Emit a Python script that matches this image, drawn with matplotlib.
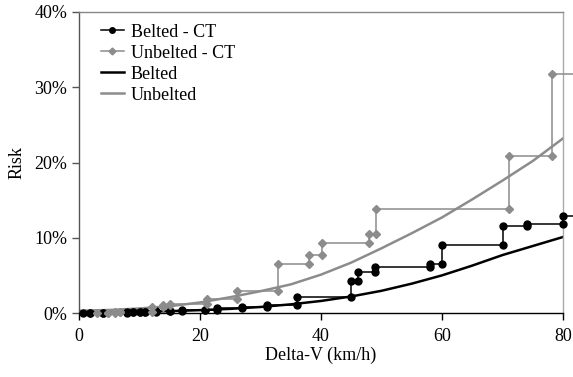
import numpy as np
import matplotlib
matplotlib.use('Agg')
import matplotlib.pyplot as plt
from matplotlib.ticker import PercentFormatter

# Delta-V (km/h) e risco (%)
belt_ct_x = [0.7, 1.8, 4.0, 7.9, 9.0, 10.1, 10.9, 12.8, 15.0, 17.0, 20.8, 22.8,
             26.9, 31.0, 36.0, 45.0, 46.1, 49.0, 58.0, 60.0, 70.1, 74.1, 80.0]
belt_ct_y = [0.0, 0.0, 0.05, 0.1, 0.1, 0.1, 0.15, 0.2, 0.25, 0.35, 0.4, 0.6,
             0.85, 1.1, 2.1, 4.3, 5.4, 6.1, 6.5, 9.1, 11.5, 11.8, 12.9]

unb_ct_x = [2.9, 4.8, 5.9, 6.8, 12.0, 13.9, 15.0, 21.1, 26.1, 32.9, 38.0, 40.1,
            48.0, 49.1, 71.1, 78.2]
unb_ct_y = [0.0, 0.05, 0.1, 0.15, 0.8, 1.05, 1.25, 1.8, 2.95, 6.5, 7.7, 9.3,
            10.5, 13.8, 20.9, 31.8]

model_x = [0, 5, 10, 15, 20, 25, 30, 35, 40, 45, 50, 55, 60, 65, 70, 75, 80]
belt_model = [0.1, 0.12, 0.17, 0.25, 0.38, 0.55, 0.8, 1.15, 1.6, 2.2, 2.95, 3.9,
              5.0, 6.3, 7.7, 8.9, 10.1]
unb_model = [0.3, 0.4, 0.6, 0.9, 1.4, 2.1, 2.9, 3.8, 5.1, 6.7, 8.6, 10.6,
             12.7, 15.1, 17.6, 20.2, 23.2]

GREY = '#8c8c8c'
TAIL = 90  # a escada continua alem do eixo
FS = 13


def staircase(xs, ys):
    sx, sy = [xs[0]], [ys[0]]
    for i in range(1, len(xs)):
        sx += [xs[i], xs[i]]
        sy += [ys[i - 1], ys[i]]
    return sx, sy


plt.rcParams['font.family'] = ['Liberation Serif', 'DejaVu Serif']
plt.rcParams['font.size'] = FS

fig = plt.figure(figsize=(5.73, 3.77), dpi=100)
ax = fig.add_axes([79 / 573, 1 - 313 / 377, 484 / 573, 301 / 377])

#Escadas (CT)
bx, by = staircase(belt_ct_x, belt_ct_y)
ux, uy = staircase(unb_ct_x, unb_ct_y)
ax.plot(bx + [TAIL], by + [by[-1]], color='black', lw=1.1, clip_on=False, zorder=3)
ax.plot(bx, by, ls='none', marker='o', ms=5, color='black', clip_on=False, zorder=4)
ax.plot(ux + [TAIL], uy + [uy[-1]], color=GREY, lw=1.1, clip_on=False, zorder=3)
ax.plot(ux, uy, ls='none', marker='D', ms=4, color=GREY, clip_on=False, zorder=4)

#Curvas do modelo
ax.plot(model_x, belt_model, color='black', lw=1.8, zorder=2)
ax.plot(model_x, unb_model, color=GREY, lw=1.8, zorder=2)

#Legenda
h1, = ax.plot([], [], color='black', lw=1.1, marker='o', ms=4)
h2, = ax.plot([], [], color=GREY, lw=1.1, marker='D', ms=3.5)
h3, = ax.plot([], [], color='black', lw=1.8)
h4, = ax.plot([], [], color=GREY, lw=1.8)
ax.legend([h1, h2, h3, h4], ['Belted - CT', 'Unbelted - CT', 'Belted', 'Unbelted'],
          loc='upper left', bbox_to_anchor=(0.03, 0.985), frameon=False,
          handlelength=1.3, handletextpad=0.35, labelspacing=0.22, borderaxespad=0,
          fontsize=FS)

ax.set_xlim(0, 80)
ax.set_ylim(0, 40)
ax.set_xticks([0, 20, 40, 60, 80])
ax.set_yticks([0, 10, 20, 30, 40])
ax.yaxis.set_major_formatter(PercentFormatter(xmax=100, decimals=0))
ax.tick_params(direction='out', length=5, width=1, labelsize=FS)
ax.tick_params(axis='y', colors='#555555', labelcolor='black')
ax.tick_params(axis='x', colors='black', labelcolor='black', pad=6)

ax.spines['left'].set_color('#555555')
ax.spines['bottom'].set_color('black')
ax.spines['top'].set_color('#888888')
ax.spines['right'].set_color('#aaaaaa')
for s in ax.spines.values():
    s.set_linewidth(1)

ax.set_xlabel('Delta-V (km/h)', fontsize=FS, labelpad=1)
ax.set_ylabel('Risk', fontsize=FS, labelpad=6)

fig.savefig('out.png', dpi=100)
